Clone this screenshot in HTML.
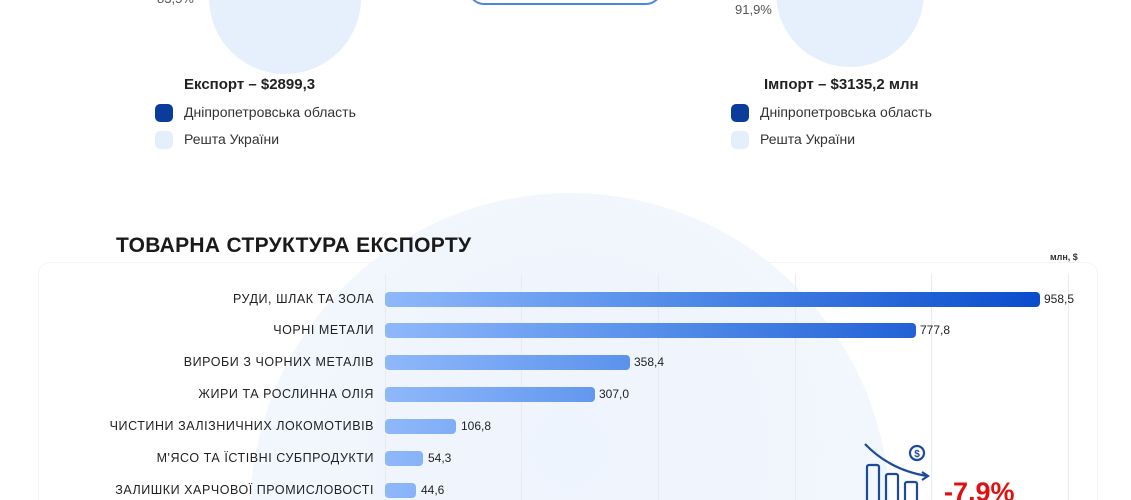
<!DOCTYPE html>
<html><head><meta charset="utf-8"><style>
*{margin:0;padding:0;box-sizing:border-box}
html{width:1131px;height:500px;overflow:hidden}
body{width:1131px;height:500px;overflow:hidden;background:#fff;position:relative;font-family:"Liberation Sans","DejaVu Sans",sans-serif;color:#222}
.a{position:absolute}
.circ{position:absolute;border-radius:50%;background:#e6effc}
.lg{position:absolute;font-size:14px;color:#333}
.sw{position:absolute;width:18px;height:18px;border-radius:5px}
.lbl{position:absolute;right:757px;font-size:12.5px;color:#222;white-space:nowrap;text-align:right;letter-spacing:.55px;line-height:15px}
.bar{position:absolute;left:385px;height:15px;border-radius:4px;background:linear-gradient(90deg,#8fb8fb 0,#4f8ae8 300px,#0a4ccc 655px);background-size:655px 15px}
.val{position:absolute;font-size:12px;color:#222;line-height:15px}
.gl{position:absolute;top:274px;width:1px;height:226px;background:#e8ebf0}
#clip{position:absolute;left:0;top:0;width:1131px;height:500px;overflow:hidden}
</style></head><body>
<div id="clip">
<div class="a" style="left:0;top:193px;width:1131px;height:307px;overflow:hidden">
<div class="a" style="left:250px;top:0;width:640px;height:640px;border-radius:50%;background:radial-gradient(circle at 50% 40%,#eef4fd 0,#f2f6fd 60%,#f7f9fe 100%)"></div>
<div class="a" style="left:38px;top:69px;width:1060px;height:260px;border:1px solid #f3f5f8;border-radius:12px"></div>
</div>
<div class="a" style="left:0;top:0;width:1131px;height:80px;overflow:hidden">
<div class="circ" style="left:209px;top:-78px;width:152px;height:152px"></div>
<div class="circ" style="left:776px;top:-81px;width:148px;height:148px"></div>
<div class="a" style="left:467px;top:-30px;width:196px;height:35px;border:2px solid #4a86e8;border-radius:18px"></div>
<div class="a" style="left:157px;top:-9px;font-size:13px;color:#555">83,5%</div>
<div class="a" style="left:735px;top:2px;font-size:13px;color:#555">91,9%</div>
</div>

<div class="a" style="left:184px;top:76px;font-size:15px;font-weight:bold;color:#222">Експорт – $2899,3</div>
<div class="sw" style="left:155px;top:104px;background:#0a3c9c"></div>
<div class="lg" style="left:184px;top:104px">Дніпропетровська область</div>
<div class="sw" style="left:155px;top:131px;background:#e5effc"></div>
<div class="lg" style="left:184px;top:131px">Решта України</div>

<div class="a" style="left:764px;top:76px;font-size:15px;font-weight:bold;color:#222">Імпорт – $3135,2 млн</div>
<div class="sw" style="left:731px;top:104px;background:#0a3c9c"></div>
<div class="lg" style="left:760px;top:104px">Дніпропетровська область</div>
<div class="sw" style="left:731px;top:131px;background:#e5effc"></div>
<div class="lg" style="left:760px;top:131px">Решта України</div>

<div class="a" style="left:116px;top:234px;font-size:21px;font-weight:bold;color:#1a1a1a;letter-spacing:.3px">ТОВАРНА СТРУКТУРА ЕКСПОРТУ</div>
<div class="a" style="left:1050px;top:252px;font-size:9px;font-weight:bold;color:#333">млн, $</div>

<div class="gl" style="left:385px"></div><div class="gl" style="left:521px"></div><div class="gl" style="left:658px"></div><div class="gl" style="left:795px"></div><div class="gl" style="left:931px"></div><div class="gl" style="left:1068px"></div>

<div class="lbl" style="top:292px">РУДИ, ШЛАК ТА ЗОЛА</div>
<div class="bar" style="top:292px;width:655px"></div><div class="val" style="left:1044px;top:292px">958,5</div>
<div class="lbl" style="top:323px">ЧОРНІ МЕТАЛИ</div>
<div class="bar" style="top:323px;width:531px"></div><div class="val" style="left:920px;top:323px">777,8</div>
<div class="lbl" style="top:355px">ВИРОБИ З ЧОРНИХ МЕТАЛІВ</div>
<div class="bar" style="top:355px;width:245px"></div><div class="val" style="left:634px;top:355px">358,4</div>
<div class="lbl" style="top:387px">ЖИРИ ТА РОСЛИННА ОЛІЯ</div>
<div class="bar" style="top:387px;width:210px"></div><div class="val" style="left:599px;top:387px">307,0</div>
<div class="lbl" style="top:419px">ЧИСТИНИ ЗАЛІЗНИЧНИХ ЛОКОМОТИВІВ</div>
<div class="bar" style="top:419px;width:71px"></div><div class="val" style="left:461px;top:419px">106,8</div>
<div class="lbl" style="top:451px">М'ЯСО ТА ЇСТІВНІ СУБПРОДУКТИ</div>
<div class="bar" style="top:451px;width:38px"></div><div class="val" style="left:428px;top:451px">54,3</div>
<div class="lbl" style="top:483px">ЗАЛИШКИ ХАРЧОВОЇ ПРОМИСЛОВОСТІ</div>
<div class="bar" style="top:483px;width:31px"></div><div class="val" style="left:421px;top:483px">44,6</div>

<svg class="a" style="left:860px;top:440px" width="75" height="60" viewBox="0 0 75 60">
<g fill="none" stroke="#1c4a9c" stroke-width="2.2">
<path d="M5 4 Q30 30 67 36"/><path d="M62 32 L68 36 L62 40"/>
<circle cx="57" cy="13" r="7"/>
<rect x="7" y="25" width="12" height="40" rx="2"/>
<rect x="26" y="34" width="12" height="40" rx="2"/>
<rect x="45" y="42" width="12" height="40" rx="2"/>
</g>
<text x="57" y="17" font-size="10" font-weight="bold" fill="#1c4a9c" text-anchor="middle" font-family="Liberation Sans">$</text>
</svg>
<div class="a" style="left:944px;top:477px;height:23px;overflow:hidden;font-size:27px;line-height:31px;font-weight:bold;color:#e01010">-7,9%</div>
</div>
</body></html>
